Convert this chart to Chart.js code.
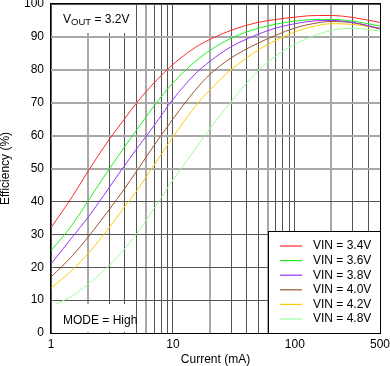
<!DOCTYPE html>
<html>
<head>
<meta charset="utf-8">
<script src="https://cdn.jsdelivr.net/npm/chart.js@4"></script>
<style>
  html, body { margin: 0; padding: 0; background: #fff; }
</style>
</head>
<body>
<canvas id="chartEff" width="390" height="366"></canvas>
<script>
// load current (mA) and efficiency (%)
const currents = [1, 1.5, 2, 3, 4, 5, 7, 10, 15, 20, 30, 50, 70, 100, 150, 200, 300, 500];
const currents48 = [1.1, 1.5, 2, 3, 4, 5, 7, 10, 15, 20, 30, 50, 70, 100, 150, 200, 300, 500];

const vin34 = [32, 41.5, 49, 58.8, 65, 69.8, 76, 81.6, 86.6, 89.2, 92, 94.4, 95.3, 96, 96.5, 96.5, 95.9, 94.4];
const vin36 = [25, 33, 40, 49.8, 56.5, 61.5, 69, 76, 82.3, 85.8, 89.6, 92.6, 93.9, 94.8, 95.3, 95.3, 94.8, 93.3];
const vin38 = [21, 29.2, 35, 44.2, 50.8, 55.8, 63, 71, 78.5, 82.5, 87, 90.8, 92.7, 94, 94.9, 95, 94.4, 92.6];
const vin40 = [17, 23.5, 29, 37.5, 43.8, 49, 57, 65, 73.5, 78.5, 83.6, 88.1, 90.5, 92.7, 94.2, 94.7, 94.3, 92.4];
const vin42 = [13.6, 19.2, 24, 32, 38.3, 43, 51, 59.5, 68.5, 73.8, 80, 86, 89, 91.5, 93.4, 94, 93.8, 92.6];
const vin48 = [8.8, 11.3, 14.8, 20.5, 25.5, 30, 37.8, 46.5, 55.5, 62, 70.3, 79.7, 84.2, 87.8, 90.6, 92, 92.6, 91.8];

const seriesLabels = ['VIN = 3.4V', 'VIN = 3.6V', 'VIN = 3.8V', 'VIN = 4.0V', 'VIN = 4.2V', 'VIN = 4.8V'];

// grid positions and the few that get a label
const xGrid = [1, 2, 3, 4, 5, 6, 7, 8, 9, 10, 20, 30, 40, 50, 60, 70, 80, 90, 100, 200, 300, 400, 500];
const xLabels = [1, 10, 100, 500];

const FONT = 'Liberation Sans, Arial, Helvetica, sans-serif';
const softX = [2, 6, 20, 60, 200];
const softY = [50, 60, 70, 80, 90];

function pts(xs, ys) {
    return xs.map((x, i) => ({ x: x, y: ys[i] }));
}

const colors = ['#ff2a2a', '#22ee22', '#9933ff', '#a0522d', '#ffcc00', '#99ff99'];
const values = [vin34, vin36, vin38, vin40, vin42, vin48];

const datasets = values.map((v, i) => ({
    label: seriesLabels[i],
    data: pts(i === 5 ? currents48 : currents, v),
    borderColor: colors[i],
    backgroundColor: colors[i],
    borderWidth: 1,
    pointRadius: 0,
    fill: false,
    cubicInterpolationMode: 'monotone'
}));

const extras = {
    id: 'extras',
    beforeDatasetsDraw(chart) {
        const ctx = chart.ctx;
        ctx.save();
        ctx.fillStyle = '#fff';
        ctx.fillRect(52, 5, 82, 28);
        ctx.fillRect(52, 304, 84, 28);
        ctx.fillStyle = '#000';
        ctx.textBaseline = 'alphabetic';
        ctx.textAlign = 'left';
        ctx.font = '12px ' + FONT;
        ctx.fillText('V', 63, 22.5);
        ctx.font = '9.5px ' + FONT;
        ctx.fillText('OUT', 71, 24.5);
        const w = ctx.measureText('OUT').width;
        ctx.font = '12px ' + FONT;
        ctx.fillText(' = 3.2V', 71 + w, 22.5);
        ctx.fillText('MODE = High', 63, 324);
        ctx.restore();
    },
    afterDatasetsDraw(chart) {
        const ctx = chart.ctx;
        const a = chart.chartArea;
        ctx.save();
        // legend box
        ctx.fillStyle = '#fff';
        ctx.fillRect(268.5, 231.5, 111.5, 101.5);
        ctx.strokeStyle = '#000';
        ctx.lineWidth = 1;
        ctx.strokeRect(268.5, 231.5, 112, 102);
        ctx.font = '12px ' + FONT;
        ctx.textBaseline = 'middle';
        chart.data.datasets.forEach((ds, i) => {
            const y = 246 + i * 14.6;
            ctx.strokeStyle = ds.borderColor;
            ctx.lineWidth = 1.2;
            ctx.beginPath();
            ctx.moveTo(280, y);
            ctx.lineTo(302, y);
            ctx.stroke();
            ctx.fillStyle = '#000';
            ctx.fillText(ds.label, 313, y);
        });
        // plot frame
        ctx.strokeStyle = '#000';
        ctx.lineWidth = 1;
        ctx.strokeRect(a.left - 0.5, a.top - 0.5, a.right - a.left + 1, a.bottom - a.top + 1);
        ctx.restore();
    }
};

new Chart(document.getElementById('chartEff').getContext('2d'), {
    type: 'line',
    data: { datasets: datasets },
    options: {
        responsive: false,
        animation: false,
        layout: { padding: { top: 4, right: 10, left: 0, bottom: 0 } },
        plugins: {
            legend: { display: false },
            tooltip: { enabled: false }
        },
        scales: {
            x: {
                type: 'logarithmic',
                min: 1,
                max: 500,
                afterBuildTicks: (scale) => {
                    scale.ticks = xGrid.map(v => ({ value: v }));
                },
                afterFit: (scale) => {
                    scale.height = 33;
                    scale.paddingLeft = 0;
                    scale.paddingRight = 0;
                },
                ticks: {
                    autoSkip: false,
                    maxRotation: 0,
                    padding: 4,
                    color: '#000',
                    font: { family: FONT, size: 12 },
                    callback: (v) => xLabels.includes(v) ? String(v) : ''
                },
                grid: {
                    drawTicks: false,
                    color: (c) => softX.includes(c.tick && c.tick.value) ? '#a8a8a8' : '#555',
                    lineWidth: (c) => softX.includes(c.tick && c.tick.value) ? 2 : 1
                },
                border: { display: false },
                title: {
                    display: true,
                    text: 'Current (mA)',
                    color: '#000',
                    font: { family: FONT, size: 12, lineHeight: 1 },
                    padding: 0
                }
            },
            y: {
                min: 0,
                max: 100,
                afterFit: (scale) => {
                    scale.width = 51;
                    scale.paddingTop = 0;
                    scale.paddingBottom = 0;
                },
                ticks: {
                    stepSize: 10,
                    padding: 7,
                    color: '#000',
                    font: { family: FONT, size: 12 }
                },
                grid: {
                    drawTicks: false,
                    color: (c) => softY.includes(c.tick && c.tick.value) ? '#a8a8a8' : '#555',
                    lineWidth: (c) => softY.includes(c.tick && c.tick.value) ? 2 : 1
                },
                border: { display: false },
                title: {
                    display: true,
                    text: 'Efficiency (%)',
                    color: '#000',
                    font: { family: FONT, size: 12, lineHeight: 1 },
                    padding: 0
                }
            }
        }
    },
    plugins: [extras]
});
</script>
</body>
</html>
